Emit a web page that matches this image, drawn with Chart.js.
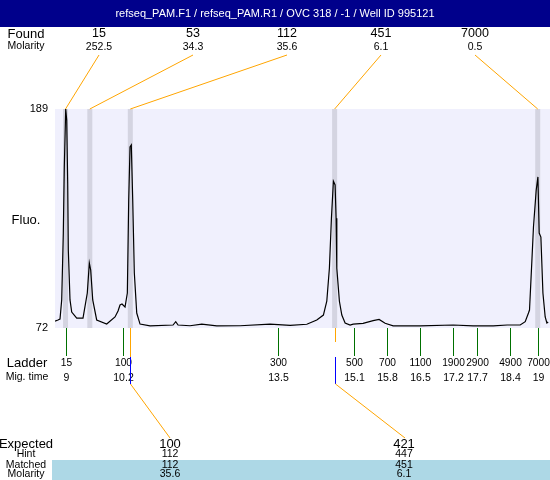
<!DOCTYPE html>
<html>
<head>
<meta charset="utf-8">
<script src="https://cdn.jsdelivr.net/npm/chart.js@4.4.0/dist/chart.umd.min.js"></script>
<style>
  html, body { margin: 0; padding: 0; background: #fff; }
  canvas { display: block; }
</style>
</head>
<body>
<canvas id="trace_chart" width="550" height="480"></canvas>
<script>
// ---- data ----
const titleText = "refseq_PAM.F1 / refseq_PAM.R1 / OVC 318 / -1 / Well ID 995121";

// trace: migration time (s) and fluorescence
const traceTime = [8.767, 8.83, 8.873, 8.909, 8.943, 8.964, 8.994, 9.015, 9.036, 9.049, 9.085, 9.121,
  9.227, 9.36, 9.451, 9.494, 9.523, 9.566, 9.65, 9.862, 10.038, 10.102, 10.144, 10.186, 10.25,
  10.299, 10.328, 10.356, 10.383, 10.413, 10.447, 10.498, 10.568, 10.78, 11.267, 11.324, 11.373,
  11.627, 11.875, 12.193, 12.686, 13.322, 13.746, 14.1, 14.311, 14.451, 14.523, 14.578, 14.621,
  14.663, 14.699, 14.72, 14.735, 14.79, 14.841, 14.911, 15.017, 15.081, 15.292, 15.504, 15.631,
  15.758, 15.928, 16.5, 17.199, 17.623, 18.047, 18.343, 18.619, 18.725, 18.794, 18.816, 18.867,
  18.9, 18.958, 18.994, 19.021, 19.057, 19.1, 19.148, 19.184, 19.212];
const traceFluo = [75.7, 76.3, 76.8, 87.0, 122.7, 158.0, 189.0, 183.1, 149.5, 113.7, 87.0, 80.5,
  77.3, 77.3, 90.7, 106.7, 103.0, 87.0, 76.3, 74.1, 77.9, 81.1, 84.3, 84.8, 83.2,
  90.7, 140.4, 168.7, 169.8, 140.4, 101.4, 80.0, 74.1, 73.1, 73.6, 75.4, 73.6,
  73.2, 74.1, 73.1, 73.2, 74.1, 73.4, 74.0, 76.3, 78.9, 86.3, 103.9, 130.6,
  150.4, 148.4, 130.6, 103.9, 86.3, 78.9, 74.7, 73.6, 74.1, 74.5, 75.9, 76.6,
  74.5, 73.1, 73.1, 73.6, 73.1, 73.1, 73.6, 73.6, 75.4, 80.0, 81.6, 108.3,
  126.0, 145.7, 152.7, 122.7, 120.6, 90.7, 77.9, 74.7, 75.2];

const foundSizes = ["15", "53", "112", "451", "7000"];
const foundMolarity = ["252.5", "34.3", "35.6", "6.1", "0.5"];
const foundTimes = [8.99, 9.504, 10.362, 14.689, 18.99];

const ladderSizes = ["15", "100", "300", "500", "700", "1100", "1900", "2900", "4900", "7000"];
const ladderTimes = [9, 10.2, 13.5, 15.1, 15.8, 16.5, 17.2, 17.7, 18.4, 19];

const expectedSizes = ["100", "421"];
const hintSizes = ["112", "447"];
const matchedSizes = ["112", "451"];
const matchedMolarity = ["35.6", "6.1"];
const matchedTimes = [10.362, 14.689];

const yTicks = [72, 189];

const FONT = "'Liberation Sans', Arial, sans-serif";

function txt(ctx, s, x, y, size, align) {
    ctx.font = size + "px " + FONT;
    ctx.textAlign = align || "center";
    ctx.textBaseline = "middle";
    ctx.fillText(s, x, y);
}

function line(ctx, x1, y1, x2, y2, color) {
    ctx.strokeStyle = color;
    ctx.lineWidth = 1;
    ctx.beginPath();
    ctx.moveTo(x1, y1);
    ctx.lineTo(x2, y2);
    ctx.stroke();
}

const backdrop = {
    id: "backdrop",
    beforeDatasetsDraw(chart) {
        const ctx = chart.ctx;
        const a = chart.chartArea;
        const xs = chart.scales.x;
        ctx.save();
        ctx.fillStyle = "#f0f0fd";
        ctx.fillRect(a.left, a.top, a.right - a.left, a.bottom - a.top);
        ctx.fillStyle = "#d4d4e1";
        foundTimes.forEach(t => {
            const px = xs.getPixelForValue(t);
            ctx.fillRect(px - 2.5, a.top, 5, a.bottom - a.top);
        });
        ctx.restore();
    },
};

const annotations = {
    id: "annotations",
    afterDraw(chart) {
        const ctx = chart.ctx;
        const a = chart.chartArea;
        const xs = chart.scales.x;
        const ys = chart.scales.y;
        ctx.save();

        // title bar
        ctx.fillStyle = "#00008b";
        ctx.fillRect(0, 0, 550, 27);
        ctx.fillStyle = "#fff";
        txt(ctx, titleText, 275, 14, 11);

        ctx.fillStyle = "#000";
        // found peaks
        txt(ctx, "Found", 26, 34, 13);
        txt(ctx, "Molarity", 26, 46, 10.5);
        foundSizes.forEach((s, i) => {
            const lx = 99 + i * 94;
            ctx.fillStyle = "#000";
            txt(ctx, s, lx, 34, 12.5);
            txt(ctx, foundMolarity[i], lx, 47, 10.5);
            line(ctx, lx, 55, xs.getPixelForValue(foundTimes[i]), a.top, "#ffa500");
        });

        // y axis
        ctx.fillStyle = "#000";
        yTicks.forEach(v => txt(ctx, String(v), 48, ys.getPixelForValue(v), 11, "right"));
        txt(ctx, "Fluo.", 26, 220, 13);

        // ladder
        txt(ctx, "Ladder", 27, 363, 13);
        txt(ctx, "Mig. time", 27, 377, 10.5);
        ladderTimes.forEach((t, i) => {
            const px = Math.round(xs.getPixelForValue(t)) + 0.5;
            line(ctx, px, a.bottom, px, 356, "#007000");
            ctx.fillStyle = "#000";
            txt(ctx, ladderSizes[i], px, 363, 10.2);
            txt(ctx, String(t), px, 378, 10.5);
        });

        // matched peaks to expected
        matchedTimes.forEach((t, i) => {
            const px = Math.round(xs.getPixelForValue(t)) + 0.5;
            const ex = i === 0 ? 170 : 405;
            line(ctx, px, a.bottom, px, i === 0 ? 357 : 342, "#ffa500");
            line(ctx, px, 357, px, 384, "#0000ff");
            line(ctx, px, 384, ex, 438, "#ffa500");
        });

        // table
        ctx.fillStyle = "#add8e6";
        ctx.fillRect(52, 460, 498, 20);
        ctx.fillStyle = "#000";
        txt(ctx, "Expected", 26, 444, 13);
        txt(ctx, "Hint", 26, 454.5, 10.5);
        txt(ctx, "Matched", 26, 465, 10.5);
        txt(ctx, "Molarity", 26, 474.5, 10.5);
        expectedSizes.forEach((s, i) => {
            const ex = i === 0 ? 170 : 404;
            txt(ctx, s, ex, 444, 13);
            txt(ctx, hintSizes[i], ex, 454.5, 10.5);
            txt(ctx, matchedSizes[i], ex, 465, 10.5);
            txt(ctx, matchedMolarity[i], ex, 474.5, 10.5);
        });
        ctx.restore();
    },
};

new Chart(document.getElementById("trace_chart"), {
    type: "line",
    data: {
        datasets: [{
            data: traceTime.map((t, i) => ({ x: t, y: traceFluo[i] })),
            borderColor: "#000",
            borderWidth: 1.2,
            pointRadius: 0,
            tension: 0,
            fill: false,
        }],
    },
    options: {
        responsive: false,
        animation: false,
        devicePixelRatio: 1,
        layout: { padding: { left: 55, top: 109, right: 0, bottom: 152 } },
        plugins: { legend: { display: false }, tooltip: { enabled: false } },
        scales: {
            x: { type: "linear", min: 8.767, max: 19.25, display: false },
            y: { min: 72, max: 189, display: false },
        },
    },
    plugins: [backdrop, annotations],
});
</script>
</body>
</html>
